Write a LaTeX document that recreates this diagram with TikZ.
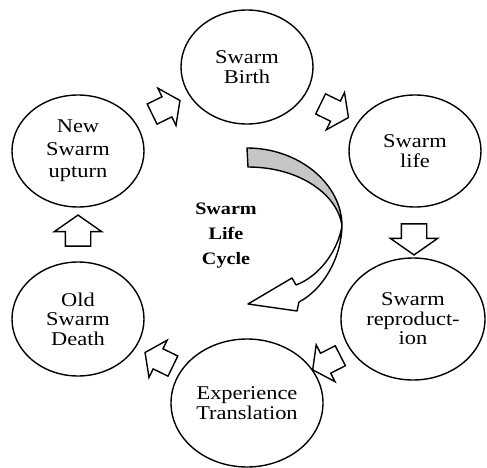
\documentclass[tikz,border=0pt]{standalone}
\usepackage{fontspec}
\setmainfont{Liberation Serif}[FakeStretch=1.15]
\usetikzlibrary{shapes.geometric,shapes.arrows,calc}

\tikzset{
  phase/.style={ellipse, draw, line width=1.4pt, inner sep=0pt, align=center,
    font=\fontsize{19.5}{19.5}\selectfont},
  cyclearrow/.style={single arrow, draw, line width=1.4pt, fill=white,
    inner xsep=0pt, inner ysep=12pt, minimum height=31pt,
    single arrow head extend=11pt, single arrow tip angle=110},
  diagarrow/.style={cyclearrow, inner ysep=10.5pt, minimum height=31pt,
    single arrow head extend=9.5pt}
}

\begin{document}
\begin{tikzpicture}[x=1pt,y=-1pt]
\useasboundingbox (0,0) rectangle (487,468);
% phases of the cycle
\node[phase, minimum width=132pt, minimum height=114pt] (birth) at (247,67) {Swarm\\Birth};
\node[phase, minimum width=132pt, minimum height=112pt] (life) at (415,151) {Swarm\\life};
\node[phase, minimum width=144pt, minimum height=122pt] (repro) at (413,319) {Swarm\\reproduct-\\ion};
\node[phase, minimum width=152pt, minimum height=128pt] (transl) at (247,403) {Experience\\Translation};
\node[phase, minimum width=132pt, minimum height=114pt] (death) at (78,319) {Old\\Swarm\\Death};
\node[phase, minimum width=132pt, minimum height=112pt,
  font=\fontsize{19.5}{22.5}\selectfont] (upturn) at (78,151) {New\\Swarm\\upturn};
% block arrows between the phases
\node[diagarrow, rotate=26] (upbirth) at ($(upturn)!0.5!(birth)$) {};
\node[diagarrow, rotate=-26] (birthlife) at ($(birth)!0.5!(life)$) {};
\node[cyclearrow, rotate=-90] (liferepro) at ($(life)!0.5!(repro)$) {};
\node[diagarrow, rotate=-153] (reprotransl) at ($(repro)!0.5!(transl)$) {};
\node[diagarrow, rotate=154] (transldeath) at ($(transl)!0.5!(death)$) {};
\node[cyclearrow, rotate=90] (deathup) at ($(death)!0.5!(upturn)$) {};
% curved arrow in the middle
\draw[line width=1.4pt, fill=gray!45] (247,148) -- (248,167)
  .. controls (300,167) and (338,195) .. (342,226)
  .. controls (342,184) and (299,148) .. (247,148) -- cycle;
\draw[line width=1.4pt, fill=white, line join=round] (342,226)
  .. controls (338,250) and (320,276) .. (296,285) -- (292,278) -- (248,304)
  -- (297,311) -- (299,302)
  .. controls (322,290) and (341,260) .. (342,226) -- cycle;
\node[font=\bfseries\fontsize{17.5}{25}\selectfont, align=center] (title) at (226,236) {Swarm\\Life\\Cycle};
\end{tikzpicture}
\end{document}
